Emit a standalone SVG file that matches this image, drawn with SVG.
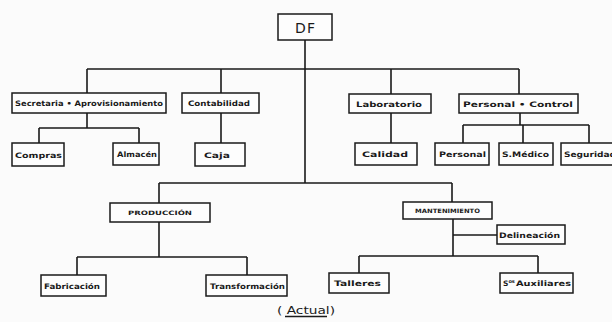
<svg xmlns="http://www.w3.org/2000/svg" width="612" height="322" viewBox="0 0 612 322">
  <style>
    .box { fill: #fdfdfd; stroke: #1a1a1a; stroke-width: 1.5; }
    .lbl { font-family: "DejaVu Sans", "Liberation Sans", sans-serif; font-size: 7.5px; font-weight: bold; fill: #1a1a1a; text-anchor: middle; }
    .caps { font-size: 6px; }
    .big { font-size: 14px; font-weight: normal; }
    .cap { font-size: 10px; font-weight: normal; }
    .wire { fill: none; stroke: #1a1a1a; stroke-width: 1.6; }
  </style>
  <rect width="612" height="322" fill="#fbfbfb"/>

  <g id="connectors">
    <!-- DF trunk down to lower branch -->
    <path class="wire" d="M305,40 V183"/>
    <!-- upper branch bar and drops -->
    <path class="wire" d="M87,69 H519 M87,69 V93 M221,69 V93 M391,69 V94 M519,69 V94"/>
    <!-- Secretaria children -->
    <path class="wire" d="M87,113 V128 M39,128 H139 M39,128 V143 M139,128 V143"/>
    <!-- Contabilidad -> Caja -->
    <path class="wire" d="M221,113 V143"/>
    <!-- Laboratorio -> Calidad -->
    <path class="wire" d="M391,113 V143"/>
    <!-- Personal + Control children -->
    <path class="wire" d="M520,113 V125 M463,125 H589 M463,125 V143 M523,125 V143 M589,125 V143"/>
    <!-- lower branch bar -->
    <path class="wire" d="M159,183 H452 M159,183 V203 M452,183 V202"/>
    <!-- PRODUCCION children -->
    <path class="wire" d="M159,222 V257 M77,257 H247 M77,257 V275 M247,257 V275"/>
    <!-- MANTENIMIENTO children -->
    <path class="wire" d="M453,219 V256 M453,235 H497 M359,256 H538 M359,256 V273 M538,256 V273"/>
  </g>

  <g id="df">
    <rect class="box" x="278" y="14" width="54" height="26"/>
    <text class="lbl big" x="305" y="33" textLength="20" lengthAdjust="spacing">DF</text>
  </g>

  <g id="secretaria">
    <rect class="box" x="12" y="93" width="154" height="20"/>
    <text class="lbl" x="89" y="106" textLength="148" lengthAdjust="spacingAndGlyphs">Secretaria • Aprovisionamiento</text>
  </g>
  <g id="contabilidad">
    <rect class="box" x="182" y="93" width="77" height="20"/>
    <text class="lbl" x="219" y="106" textLength="62" lengthAdjust="spacingAndGlyphs">Contabilidad</text>
  </g>
  <g id="laboratorio">
    <rect class="box" x="349" y="94" width="82" height="19"/>
    <text class="lbl" x="389" y="106.5" textLength="66" lengthAdjust="spacingAndGlyphs">Laboratorio</text>
  </g>
  <g id="personal-control">
    <rect class="box" x="459" y="94" width="119" height="19"/>
    <text class="lbl" x="518" y="106.5" textLength="110" lengthAdjust="spacingAndGlyphs">Personal • Control</text>
  </g>

  <g id="compras">
    <rect class="box" x="12" y="143" width="52" height="23"/>
    <text class="lbl" x="38.5" y="157.5" textLength="47" lengthAdjust="spacingAndGlyphs">Compras</text>
  </g>
  <g id="almacen">
    <rect class="box" x="113" y="143" width="46" height="22"/>
    <text class="lbl" x="137" y="157" textLength="40" lengthAdjust="spacingAndGlyphs">Almacén</text>
  </g>
  <g id="caja">
    <rect class="box" x="195" y="143" width="50" height="23"/>
    <text class="lbl" x="217" y="157.5" textLength="26" lengthAdjust="spacingAndGlyphs">Caja</text>
  </g>
  <g id="calidad">
    <rect class="box" x="355" y="143" width="62" height="22"/>
    <text class="lbl" x="385" y="157" textLength="46" lengthAdjust="spacingAndGlyphs">Calidad</text>
  </g>
  <g id="personal">
    <rect class="box" x="435" y="143" width="54" height="22"/>
    <text class="lbl" x="462.5" y="157" textLength="47" lengthAdjust="spacingAndGlyphs">Personal</text>
  </g>
  <g id="s-medico">
    <rect class="box" x="499" y="143" width="54" height="22"/>
    <text class="lbl" x="525.5" y="157" textLength="47" lengthAdjust="spacingAndGlyphs">S.Médico</text>
  </g>
  <g id="seguridad">
    <rect class="box" x="561" y="143" width="60" height="22"/>
    <text class="lbl" x="564" y="157" style="text-anchor:start" textLength="52" lengthAdjust="spacingAndGlyphs">Seguridad</text>
  </g>

  <g id="produccion">
    <rect class="box" x="110" y="203" width="100" height="19"/>
    <text class="lbl caps" x="160" y="215" textLength="64" lengthAdjust="spacingAndGlyphs">PRODUCCIÓN</text>
  </g>
  <g id="mantenimiento">
    <rect class="box" x="403" y="202" width="89" height="17"/>
    <text class="lbl caps" x="447.5" y="213" textLength="65" lengthAdjust="spacingAndGlyphs">MANTENIMIENTO</text>
  </g>
  <g id="delineacion">
    <rect class="box" x="497" y="225" width="68" height="19"/>
    <text class="lbl" x="529.5" y="237.5" textLength="61" lengthAdjust="spacingAndGlyphs">Delineación</text>
  </g>

  <g id="fabricacion">
    <rect class="box" x="41" y="275" width="65" height="21"/>
    <text class="lbl" x="72" y="288.5" textLength="56" lengthAdjust="spacingAndGlyphs">Fabricación</text>
  </g>
  <g id="transformacion">
    <rect class="box" x="206" y="275" width="81" height="21"/>
    <text class="lbl" x="247.5" y="288.5" textLength="75" lengthAdjust="spacingAndGlyphs">Transformación</text>
  </g>
  <g id="talleres">
    <rect class="box" x="329" y="273" width="60" height="20"/>
    <text class="lbl" x="357.5" y="286" textLength="47" lengthAdjust="spacingAndGlyphs">Talleres</text>
  </g>
  <g id="servicios-auxiliares">
    <rect class="box" x="500" y="273" width="73" height="20"/>
    <text class="lbl" x="503" y="286" style="text-anchor:start">S<tspan font-size="5" dy="-3">os</tspan><tspan x="516" dy="3" textLength="55" lengthAdjust="spacingAndGlyphs">Auxiliares</tspan></text>
  </g>

  <g id="caption">
    <text class="lbl cap" x="306" y="314" textLength="58" lengthAdjust="spacingAndGlyphs">( Actual)</text>
    <path class="wire" d="M285,316.5 H327" stroke-width="1"/>
  </g>
</svg>
